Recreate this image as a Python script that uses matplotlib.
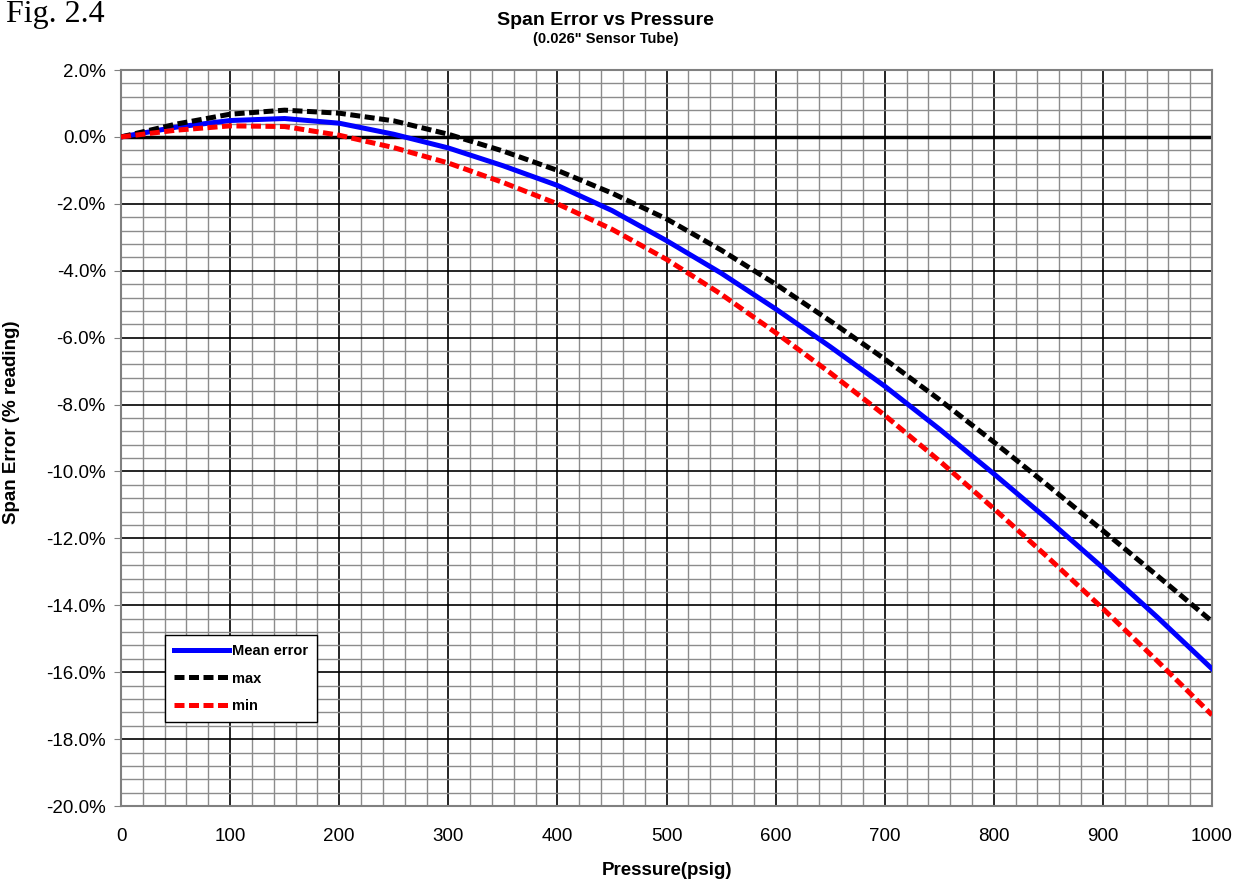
import matplotlib
matplotlib.use('Agg')
import matplotlib.pyplot as plt
from matplotlib.ticker import MultipleLocator, FuncFormatter

# pressure (psig) and span error (% reading)
pressure = [0, 50, 100, 150, 200, 250, 300, 350, 400, 450, 500,
            550, 600, 650, 700, 750, 800, 850, 900, 950, 1000]
mean_err = [0.0, 0.29, 0.49, 0.55, 0.41, 0.08, -0.33, -0.86, -1.45, -2.20, -3.10,
            -4.07, -5.14, -6.27, -7.45, -8.73, -10.07, -11.45, -12.88, -14.36, -15.90]
max_err = [0.0, 0.38, 0.68, 0.80, 0.71, 0.48, 0.08, -0.42, -1.00, -1.68, -2.45,
           -3.38, -4.40, -5.50, -6.64, -7.85, -9.12, -10.43, -11.77, -13.12, -14.48]
min_err = [0.0, 0.20, 0.33, 0.31, 0.05, -0.32, -0.78, -1.36, -2.00, -2.76, -3.66,
           -4.70, -5.85, -7.05, -8.32, -9.68, -11.11, -12.58, -14.10, -15.67, -17.28]

plt.rcParams['font.family'] = ['Liberation Sans', 'DejaVu Sans']

fig = plt.figure(figsize=(12.49, 8.84), dpi=100)
ax = fig.add_axes([0.0969, 0.0882, 0.8735, 0.8326])

ax.set_xlim(0, 1000)
ax.set_ylim(-20, 2)
ax.xaxis.set_major_locator(MultipleLocator(100))
ax.xaxis.set_minor_locator(MultipleLocator(20))
ax.yaxis.set_major_locator(MultipleLocator(2))
ax.yaxis.set_minor_locator(MultipleLocator(0.4))
ax.yaxis.set_major_formatter(FuncFormatter(lambda v, p: f"{v:.1f}%"))

ax.grid(which='minor', color='#8c8c8c', lw=1.0)
ax.grid(which='major', color='black', lw=1.2)
ax.set_axisbelow(True)
ax.axhline(0, color='black', lw=2.5, zorder=1.5)

for s in ax.spines.values():
    s.set_color('#808080')
    s.set_linewidth(1.5)
ax.tick_params(which='major', labelsize=13.5, color='#808080', direction='out')
ax.tick_params(which='minor', length=0)
ax.tick_params(axis='x', length=0, pad=16)
ax.tick_params(axis='y', length=5, pad=6)

ax.plot(pressure, mean_err, color='#0000ff', lw=3.6, label='Mean error', zorder=3)
ax.plot(pressure, max_err, color='black', lw=3.6, dashes=(2.0, 0.9), label='max', zorder=3)
ax.plot(pressure, min_err, color='#ff0000', lw=3.6, dashes=(2.0, 0.9), label='min', zorder=3)

ax.set_xlabel('Pressure(psig)', fontsize=13.5, fontweight='bold')
ax.set_ylabel('Span Error (% reading)', fontsize=13.5, fontweight='bold')
ax.xaxis.set_label_coords(0.5, -0.076)
ax.yaxis.set_label_coords(-0.0926, 0.522)

leg = ax.legend(loc='lower left', bbox_to_anchor=(0.0403, 0.114), borderaxespad=0,
                prop={'weight': 'bold', 'size': 10.5}, frameon=True, fancybox=False,
                handlelength=3.8, borderpad=0.6, labelspacing=0.95, handletextpad=0.2)
leg.get_frame().set_edgecolor('black')
leg.get_frame().set_linewidth(1.0)
leg.get_frame().set_alpha(1)

fig.text(0.485, 0.977, 'Span Error vs Pressure', ha='center', va='center',
         fontsize=14, fontweight='bold')
fig.text(0.485, 0.956, '(0.026" Sensor Tube)', ha='center', va='center',
         fontsize=10.5, fontweight='bold')
fig.text(0.005, 0.975, 'Fig. 2.4', ha='left', va='baseline', fontsize=23,
         family=['Liberation Serif', 'DejaVu Serif'])

fig.savefig('out.png', dpi=100)
